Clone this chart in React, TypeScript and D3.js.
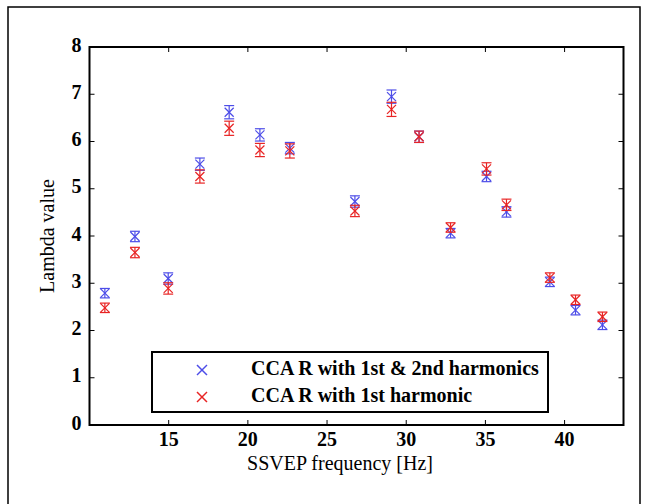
import React from "react";
import * as d3 from "d3";

// SSVEP stimulation frequencies (Hz)
const freqs = [10.97, 12.87, 14.97, 16.97, 18.82, 20.76, 22.65, 26.76, 29.07, 30.81, 32.8, 35.07, 36.33, 39.07, 40.69, 42.39];

// CCA R with 1st & 2nd harmonics
const lambdaBoth = [2.79, 3.99, 3.1, 5.52, 6.62, 6.14, 5.86, 4.73, 6.95, 6.1, 4.06, 5.26, 4.51, 3.03, 2.43, 2.12];
const errBoth = [0.1, 0.11, 0.12, 0.13, 0.14, 0.13, 0.12, 0.12, 0.14, 0.12, 0.1, 0.11, 0.11, 0.1, 0.1, 0.1];

// CCA R with 1st harmonic
const lambdaFirst = [2.48, 3.65, 2.89, 5.26, 6.28, 5.82, 5.8, 4.53, 6.68, 6.1, 4.18, 5.42, 4.66, 3.12, 2.65, 2.29];
const errFirst = [0.1, 0.11, 0.12, 0.14, 0.15, 0.14, 0.15, 0.12, 0.15, 0.12, 0.1, 0.13, 0.12, 0.1, 0.1, 0.1];

const xTicks = [15, 20, 25, 30, 35, 40];
const yTicks = [0, 1, 2, 3, 4, 5, 6, 7, 8];

const seriesNames = ["CCA R with 1st & 2nd harmonics", "CCA R with 1st harmonic"];
const BLUE = "#4d4de8";
const RED = "#e82424";

const FONT = "'Liberation Serif', 'Times New Roman', serif";

const ErrorPoints = ({ xs, ys, errs, color, x, y }) => {
  const cap = 5;
  const m = 4.5;
  return (
    <g stroke={color} strokeWidth={1.2} fill="none">
      {xs.map((f, i) => {
        const cx = x(f);
        const cy = y(ys[i]);
        const y0 = y(ys[i] - errs[i]);
        const y1 = y(ys[i] + errs[i]);
        return (
          <g key={i}>
            <line x1={cx} x2={cx} y1={y0} y2={y1} />
            <line x1={cx - cap} x2={cx + cap} y1={y0} y2={y0} />
            <line x1={cx - cap} x2={cx + cap} y1={y1} y2={y1} />
            <line x1={cx - m} x2={cx + m} y1={cy - m} y2={cy + m} />
            <line x1={cx - m} x2={cx + m} y1={cy + m} y2={cy - m} />
          </g>
        );
      })}
    </g>
  );
};

const App = () => {
  const width = 649;
  const height = 504;
  const plot = { left: 89.5, right: 623.5, top: 47, bottom: 425 };

  const x = d3.scaleLinear().domain([10, 43.72]).range([plot.left, plot.right]);
  const y = d3.scaleLinear().domain([0, 8]).range([plot.bottom, plot.top]);
  const tickLen = 5;

  const legend = { x: 152, y: 352, w: 396, h: 60 };

  return (
    <svg
      width={width}
      height={height}
      style={{ position: "absolute", left: 0, top: 0, background: "#fff" }}
      fontFamily={FONT}
    >
      <rect x={0} y={0} width={width} height={height} fill="#fff" />
      {/* figure frame */}
      <rect x={8} y={7} width={632} height={520} fill="none" stroke="#000" strokeWidth={1.5} />

      {/* ticks */}
      <g stroke="#000" strokeWidth={1}>
        {xTicks.map((t) => (
          <g key={t}>
            <line x1={x(t)} x2={x(t)} y1={plot.bottom} y2={plot.bottom - tickLen} />
            <line x1={x(t)} x2={x(t)} y1={plot.top} y2={plot.top + tickLen} />
          </g>
        ))}
        {yTicks.map((t) => (
          <g key={t}>
            <line x1={plot.left} x2={plot.left + tickLen} y1={y(t)} y2={y(t)} />
            <line x1={plot.right} x2={plot.right - tickLen} y1={y(t)} y2={y(t)} />
          </g>
        ))}
      </g>

      <rect
        x={plot.left}
        y={plot.top}
        width={plot.right - plot.left}
        height={plot.bottom - plot.top}
        fill="none"
        stroke="#000"
        strokeWidth={2}
      />

      {/* tick labels */}
      <g fontSize={20} fontWeight="bold" fill="#000">
        {xTicks.map((t) => (
          <text key={t} x={x(t)} y={plot.bottom + 16} textAnchor="middle" dominantBaseline="middle">
            {t}
          </text>
        ))}
        {yTicks.map((t) => (
          <text key={t} x={plot.left - 8} y={y(t)} textAnchor="end" dominantBaseline="middle">
            {t}
          </text>
        ))}
      </g>

      {/* axis labels */}
      <text x={340} y={470} textAnchor="middle" fontSize={20} fill="#000">
        SSVEP frequency [Hz]
      </text>
      <text
        transform={`translate(54, ${(plot.top + plot.bottom) / 2}) rotate(-90)`}
        textAnchor="middle"
        fontSize={20}
        fill="#000"
      >
        Lambda value
      </text>

      <ErrorPoints xs={freqs} ys={lambdaBoth} errs={errBoth} color={BLUE} x={x} y={y} />
      <ErrorPoints xs={freqs} ys={lambdaFirst} errs={errFirst} color={RED} x={x} y={y} />

      {/* legend */}
      <rect x={legend.x} y={legend.y} width={legend.w} height={legend.h} fill="#fff" stroke="#000" strokeWidth={2} />
      {seriesNames.map((name, i) => {
        const cy = legend.y + 18 + i * 27;
        const cx = 202;
        const m = 5;
        return (
          <g key={name}>
            <g stroke={i === 0 ? BLUE : RED} strokeWidth={1.5}>
              <line x1={cx - m} x2={cx + m} y1={cy - m} y2={cy + m} />
              <line x1={cx - m} x2={cx + m} y1={cy + m} y2={cy - m} />
            </g>
            <text x={251} y={cy} dominantBaseline="middle" fontSize={20} fontWeight="bold" fill="#000">
              {name}
            </text>
          </g>
        );
      })}
    </svg>
  );
};

export default App;
